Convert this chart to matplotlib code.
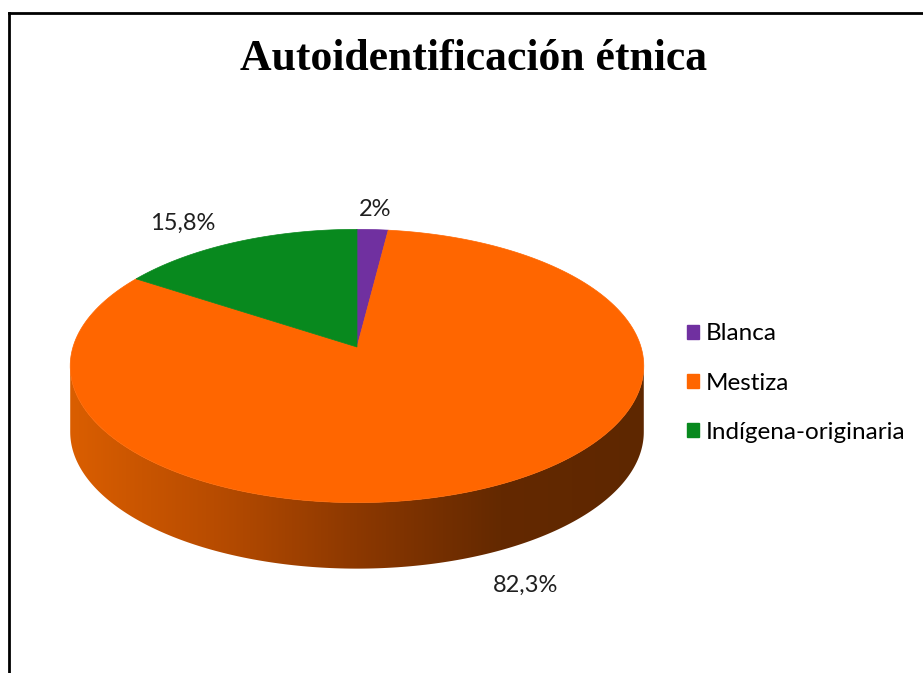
import numpy as np
import matplotlib.pyplot as plt
from matplotlib.patches import Polygon, Patch
from matplotlib.lines import Line2D
from matplotlib.colors import LinearSegmentedColormap

categories = ['Blanca', 'Mestiza', 'Indígena-originaria']
values = [2.0, 82.3, 15.8]
labels = ['2%', '82,3%', '15,8%']
colors = ['#7030A0', '#FF6600', '#08891E']

W, H = 923, 673
cx, cy = 357, 347      # centre of the top face (apex of the wedges)
sx, sy = 284, 134      # radii of the projected disc
k = 0.139              # perspective
depth = 66             # thickness of the pie


def project(theta, r=1.0):
    # theta measured clockwise from 12 o'clock
    u, v = r * np.sin(theta), r * np.cos(theta)
    d = 1 + k * v
    return cx + sx * u / d, cy - sy * v / d


fig = plt.figure(figsize=(W / 100, H / 100), dpi=100)
ax = fig.add_axes([0, 0, 1, 1])
ax.set_xlim(0, W)
ax.set_ylim(H, 0)
ax.axis('off')

total = sum(values)
starts = np.concatenate([[0], np.cumsum(values)[:-1]]) / total * 2 * np.pi
ends = np.cumsum(values) / total * 2 * np.pi

# side of the pie (front half only)
t0, t1 = np.arccos(-k), 2 * np.pi - np.arccos(-k)
side_cmap = LinearSegmentedColormap.from_list(
    'side', ['#DA5E00', '#B84C00', '#8C3800', '#642900', '#5E2700'])
for s, e in zip(starts, ends):
    a, b = max(s, t0), min(e, t1)
    if a >= b:
        continue
    t = np.linspace(a, b, 200)
    xt, yt = project(t)
    pts = np.vstack([np.column_stack([xt, yt]),
                     np.column_stack([xt[::-1], yt[::-1] + depth])])
    poly = Polygon(pts, closed=True, facecolor='none', edgecolor='none')
    ax.add_patch(poly)
    grad = np.linspace(0, 1, 256).reshape(1, -1)
    x0, x1 = pts[:, 0].min(), pts[:, 0].max()
    y0, y1 = pts[:, 1].min(), pts[:, 1].max()
    im = ax.imshow(grad, cmap=side_cmap, aspect='auto',
                   extent=[x0, x1, y1, y0], zorder=1)
    im.set_clip_path(poly)

# top face
handles = []
for s, e, c, name in zip(starts, ends, colors, categories):
    t = np.linspace(s, e, 200)
    xt, yt = project(t)
    pts = np.vstack([[cx, cy], np.column_stack([xt, yt])])
    ax.add_patch(Polygon(pts, closed=True, facecolor=c, edgecolor=c,
                         linewidth=0.5, zorder=2))
    handles.append(Patch(facecolor=c, edgecolor=c, label=name))

# data labels
for s, e, lab in zip(starts, ends, labels):
    m = (s + e) / 2
    x, y = project(m, 1.2)
    if np.cos(m) < 0:
        y += depth
    u = np.sin(m)
    ha = 'right' if u < -0.3 else ('left' if u > 0.7 else 'center')
    ax.text(x, y, lab, ha=ha, va='center', fontsize=17, family='Lato',
            color='#1F1F1F', zorder=3)

ax.text(474, 59, 'Autoidentificación étnica', ha='center', va='center',
        fontsize=31.5, fontweight='bold', family='Liberation Serif', color='black')

ax.legend(handles=handles, loc='center left', bbox_to_anchor=(677 / W, 1 - 383 / H),
          frameon=False, prop={'family': 'Lato', 'size': 17.5},
          handlelength=0.5, handleheight=0.5, handletextpad=0.3,
          labelspacing=1.16, borderaxespad=0)

# chart frame
fig.add_artist(Line2D([9 / W, 9 / W], [0, 1 - 13 / H], color='black', linewidth=2))
fig.add_artist(Line2D([9 / W, 1], [1 - 13 / H, 1 - 13 / H], color='black', linewidth=2))

fig.savefig('out.png', dpi=100)
